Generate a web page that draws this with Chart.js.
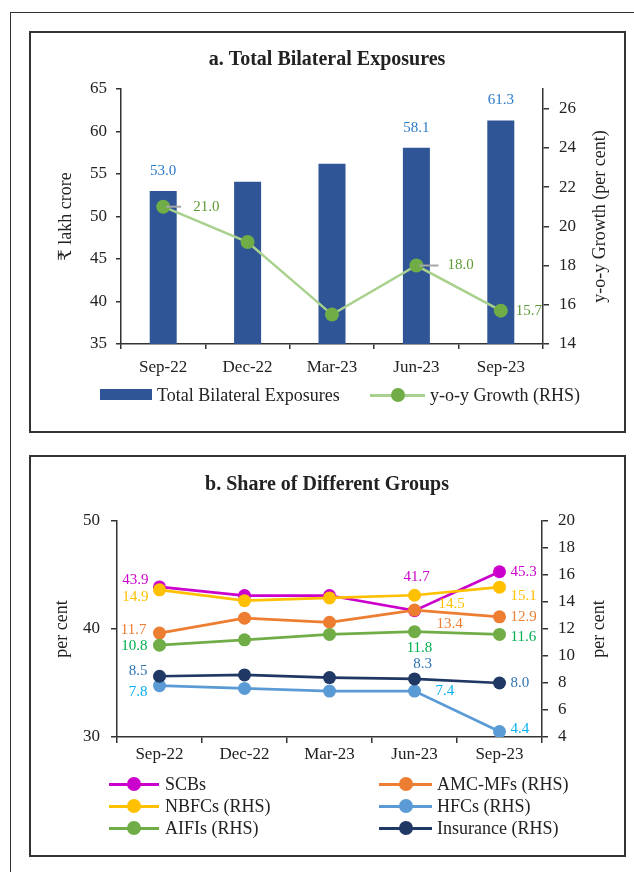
<!DOCTYPE html>
<html>
<head>
<meta charset="utf-8">
<script src="https://cdn.jsdelivr.net/npm/chart.js@4.4.0/dist/chart.umd.min.js"></script>
<style>
  html, body { margin:0; padding:0; background:#fff; width:634px; height:872px; overflow:hidden;
    font-family:"Liberation Serif","DejaVu Serif",serif; color:#222; }
  .outer { position:absolute; left:10px; top:12px; width:700px; height:900px; border:1.5px solid #333; box-sizing:border-box; }
  .panel { position:absolute; left:29px; width:597px; height:402px; border:2px solid #333; box-sizing:border-box; pointer-events:none; }
  .cv { position:absolute; left:29px; }
  .lg { position:absolute; font-size:18px; line-height:22px; height:22px; white-space:nowrap; color:#222; }
  .sw { position:absolute; }
  .dot { position:absolute; width:14px; height:14px; border-radius:50%; }
</style>
</head>
<body>
<div class="outer"></div>
<canvas id="chartA" class="cv" width="596" height="401" style="top:31px;width:596px;height:401px"></canvas>
<canvas id="chartB" class="cv" width="596" height="401" style="top:455px;width:596px;height:401px"></canvas>
<div class="panel" style="top:31px"></div>
<div class="panel" style="top:455px"></div>
<div id="legends"></div>
<script>
// ---------- data ----------
const categories = ['Sep-22', 'Dec-22', 'Mar-23', 'Jun-23', 'Sep-23'];
const totalExposures = [53.0, 54.1, 56.2, 58.1, 61.3];
const yoyGrowth = [21.0, 19.2, 15.5, 18.0, 15.7];

const scbs      = [43.9, 43.1, 43.1, 41.7, 45.3];
const amcMfs    = [11.7, 12.8, 12.5, 13.4, 12.9];
const nbfcs     = [14.9, 14.1, 14.3, 14.5, 15.1];
const hfcs      = [7.8, 7.6, 7.4, 7.4, 4.4];
const aifis     = [10.8, 11.2, 11.6, 11.8, 11.6];
const insurance = [8.5, 8.6, 8.4, 8.3, 8.0];

const ticksALeft  = [35, 40, 45, 50, 55, 60, 65];
const ticksARight = [14, 16, 18, 20, 22, 24, 26];
const ticksBLeft  = [30, 40, 50];
const ticksBRight = [4, 6, 8, 10, 12, 14, 16, 18, 20];

const titleA = 'a. Total Bilateral Exposures';
const titleB = 'b. Share of Different Groups';

// ---------- styling ----------
const FONT = "'Liberation Serif', 'DejaVu Serif', serif";
Chart.defaults.font.family = FONT;
Chart.defaults.color = '#222';
const AXIS = '#333';

const axisTitles = {
  id: 'axisTitles',
  afterDraw(chart, args, opts) {
    const { ctx, chartArea } = chart;
    (opts.items || []).forEach(t => {
      ctx.save();
      const x = t.side === 'left' ? chartArea.left - t.offset : chartArea.right + t.offset;
      ctx.translate(x, (chartArea.top + chartArea.bottom) / 2);
      ctx.rotate(-Math.PI / 2);
      ctx.font = '18px ' + FONT;
      ctx.fillStyle = '#222';
      ctx.textAlign = 'center';
      ctx.textBaseline = 'middle';
      ctx.fillText(t.text, 0, 0);
      ctx.restore();
    });
  }
};

const valueLabels = {
  id: 'valueLabels',
  afterDatasetsDraw(chart, args, opts) {
    const ctx = chart.ctx;
    (opts.items || []).forEach(item => {
      const meta = chart.getDatasetMeta(item.dataset);
      const values = chart.data.datasets[item.dataset].data;
      Object.keys(item.place).forEach(k => {
        const i = +k, p = item.place[k];
        const el = meta.data[i];
        if (!el) return;
        if (p[3]) {
          ctx.save();
          ctx.strokeStyle = '#A6A6A6';
          ctx.lineWidth = 2;
          ctx.beginPath();
          ctx.moveTo(el.x + 3, el.y);
          ctx.lineTo(el.x + p[3], el.y);
          ctx.stroke();
          ctx.restore();
        }
        ctx.save();
        ctx.font = '15px ' + FONT;
        ctx.fillStyle = item.color;
        ctx.textAlign = p[2];
        ctx.textBaseline = 'middle';
        ctx.fillText(values[i].toFixed(1), el.x + p[0], el.y + p[1]);
        ctx.restore();
      });
    });
  }
};

function fixWidth(w) { return s => { s.width = w; }; }
function fixHeight(h) { return s => { s.height = h; }; }

// ---------- chart a ----------
new Chart(document.getElementById('chartA'), {
  data: {
    labels: categories,
    datasets: [
      { type: 'line', label: 'y-o-y Growth (RHS)', data: yoyGrowth, yAxisID: 'y1', order: 0,
        borderColor: '#A9D18E', borderWidth: 2.5, tension: 0,
        pointRadius: 7, pointBackgroundColor: '#70AD47', pointBorderColor: '#70AD47', pointBorderWidth: 0 },
      { type: 'bar', label: 'Total Bilateral Exposures', data: totalExposures, yAxisID: 'y', order: 1,
        backgroundColor: '#2F5597', barPercentage: 0.32, categoryPercentage: 1 }
    ]
  },
  options: {
    responsive: false, animation: false,
    layout: { padding: { left: 0, right: 0, top: 0, bottom: 48 } },
    plugins: {
      legend: { display: false }, tooltip: { enabled: false },
      title: { display: true, text: titleA, color: '#222',
        font: { size: 20, weight: 'bold', family: FONT }, padding: { top: 17, bottom: 17 } },
      axisTitles: { items: [ { text: '₹ lakh crore', side: 'left', offset: 55 },
                             { text: 'y-o-y Growth (per cent)', side: 'right', offset: 57 } ] },
      valueLabels: { items: [
        { dataset: 1, color: '#2B7BC9', place: { 0: [0, -20, 'center'], 3: [0, -20, 'center'], 4: [0, -20, 'center'] } },
        { dataset: 0, color: '#5E9A35', place: { 0: [30, 0, 'left', 18], 3: [31, 0, 'left', 22], 4: [15, 0, 'left'] } }
      ] }
    },
    scales: {
      x: { type: 'category', offset: true, afterFit: fixHeight(40),
        grid: { offset: true, drawOnChartArea: false, drawTicks: true, tickLength: 5, color: AXIS, lineWidth: 1.5 },
        border: { display: true, color: AXIS, width: 1.5 },
        ticks: { font: { size: 17 }, padding: 8, color: '#222' } },
      y: { position: 'left', min: ticksALeft[0], max: ticksALeft[ticksALeft.length - 1],
        afterFit: fixWidth(92),
        grid: { drawOnChartArea: false, tickLength: 5, color: AXIS, lineWidth: 1.5 },
        border: { display: true, color: AXIS, width: 1.5 },
        ticks: { stepSize: ticksALeft[1] - ticksALeft[0], font: { size: 17 }, padding: 9, color: '#222' } },
      y1: { position: 'right', min: ticksARight[0], max: 27,
        afterFit: fixWidth(82),
        grid: { drawOnChartArea: false, tickLength: 6, color: AXIS, lineWidth: 1.5 },
        border: { display: true, color: AXIS, width: 1.5 },
        ticks: { stepSize: ticksARight[1] - ticksARight[0], includeBounds: false, font: { size: 17 }, padding: 10, color: '#222' } }
    }
  },
  plugins: [axisTitles, valueLabels]
});

// ---------- chart b ----------
const seriesB = [
  { label: 'SCBs',            data: scbs,      axis: 'y',  color: '#CC00CC', text: '#CC00CC', order: 6,
    place: { 0: [-11, -7, 'right'], 3: [2, -34, 'center'], 4: [11, 0, 'left'] } },
  { label: 'AMC-MFs (RHS)',   data: amcMfs,    axis: 'y1', color: '#ED7D31', text: '#ED7D31', order: 5,
    place: { 0: [-13, -3, 'right'], 3: [22, 14, 'left'], 4: [11, 0, 'left'] } },
  { label: 'NBFCs (RHS)',     data: nbfcs,     axis: 'y1', color: '#FFC000', text: '#FFC000', order: 4,
    place: { 0: [-11, 7, 'right'], 3: [24, 9, 'left'], 4: [11, 9, 'left'] } },
  { label: 'HFCs (RHS)',      data: hfcs,      axis: 'y1', color: '#5B9BD5', text: '#00B0F0', order: 3,
    place: { 0: [-12, 6, 'right'], 3: [21, 0, 'left'], 4: [11, -3, 'left'] } },
  { label: 'AIFIs (RHS)',     data: aifis,     axis: 'y1', color: '#70AD47', text: '#00B050', order: 2,
    place: { 0: [-12, 1, 'right'], 3: [5, 16, 'center'], 4: [11, 3, 'left'] } },
  { label: 'Insurance (RHS)', data: insurance, axis: 'y1', color: '#203864', text: '#2E75B6', order: 1,
    place: { 0: [-12, -5, 'right'], 3: [8, -15, 'center'], 4: [11, 0, 'left'] } }
];

new Chart(document.getElementById('chartB'), {
  type: 'line',
  data: {
    labels: categories,
    datasets: seriesB.map(s => ({
      label: s.label, data: s.data, yAxisID: s.axis, order: s.order,
      borderColor: s.color, borderWidth: 2.75, tension: 0,
      pointRadius: 6.5, pointBackgroundColor: s.color, pointBorderColor: s.color, pointBorderWidth: 0
    }))
  },
  options: {
    responsive: false, animation: false,
    layout: { padding: { left: 0, right: 0, top: 0, bottom: 84 } },
    plugins: {
      legend: { display: false }, tooltip: { enabled: false },
      title: { display: true, text: titleB, color: '#222',
        font: { size: 20, weight: 'bold', family: FONT }, padding: { top: 18, bottom: 24 } },
      axisTitles: { items: [ { text: 'per cent', side: 'left', offset: 55 },
                             { text: 'per cent', side: 'right', offset: 57 } ] },
      valueLabels: { items: seriesB.map((s, i) => ({ dataset: i, color: s.text, place: s.place })) }
    },
    scales: {
      x: { type: 'category', offset: true, afterFit: fixHeight(35),
        grid: { offset: true, drawOnChartArea: false, drawTicks: true, tickLength: 6, color: AXIS, lineWidth: 1.5 },
        border: { display: true, color: AXIS, width: 1.5 },
        ticks: { font: { size: 17 }, padding: 1, color: '#222' } },
      y: { position: 'left', min: ticksBLeft[0], max: ticksBLeft[ticksBLeft.length - 1],
        afterFit: fixWidth(88),
        grid: { drawOnChartArea: false, tickLength: 6, color: AXIS, lineWidth: 1.5 },
        border: { display: true, color: AXIS, width: 1.5 },
        ticks: { stepSize: ticksBLeft[1] - ticksBLeft[0], font: { size: 17 }, padding: 11, color: '#222' } },
      y1: { position: 'right', min: ticksBRight[0], max: ticksBRight[ticksBRight.length - 1],
        afterFit: fixWidth(83),
        grid: { drawOnChartArea: false, tickLength: 6, color: AXIS, lineWidth: 1.5 },
        border: { display: true, color: AXIS, width: 1.5 },
        ticks: { stepSize: ticksBRight[1] - ticksBRight[0], font: { size: 17 }, padding: 10, color: '#222' } }
    }
  },
  plugins: [axisTitles, valueLabels]
});

// ---------- legends (HTML) ----------
const L = document.getElementById('legends');
function add(html) { L.insertAdjacentHTML('beforeend', html); }
function lineMarker(x1, x2, cy, lineColor, dotColor) {
  add(`<div class="sw" style="left:${x1}px;top:${cy - 1.5}px;width:${x2 - x1}px;height:3px;background:${lineColor}"></div>`);
  add(`<div class="dot" style="left:${(x1 + x2) / 2 - 7}px;top:${cy - 7}px;background:${dotColor}"></div>`);
}
function text(x, cy, t) { add(`<div class="lg" style="left:${x}px;top:${cy - 11}px">${t}</div>`); }

// legend a
add(`<div class="sw" style="left:100px;top:389px;width:52px;height:11px;background:#2F5597"></div>`);
text(157, 395, 'Total Bilateral Exposures');
lineMarker(370, 425, 395, '#A9D18E', '#70AD47');
text(430, 395, 'y-o-y Growth (RHS)');

// legend b (two columns, row-wise)
const rowsY = [784, 806, 828];
seriesB.forEach((s, i) => {
  const col = i % 2, row = Math.floor(i / 2);
  const x1 = col === 0 ? 109 : 379, x2 = col === 0 ? 159 : 432, tx = col === 0 ? 165 : 437;
  lineMarker(x1, x2, rowsY[row], s.color, s.color);
  text(tx, rowsY[row], s.label);
});
</script>
</body>
</html>
